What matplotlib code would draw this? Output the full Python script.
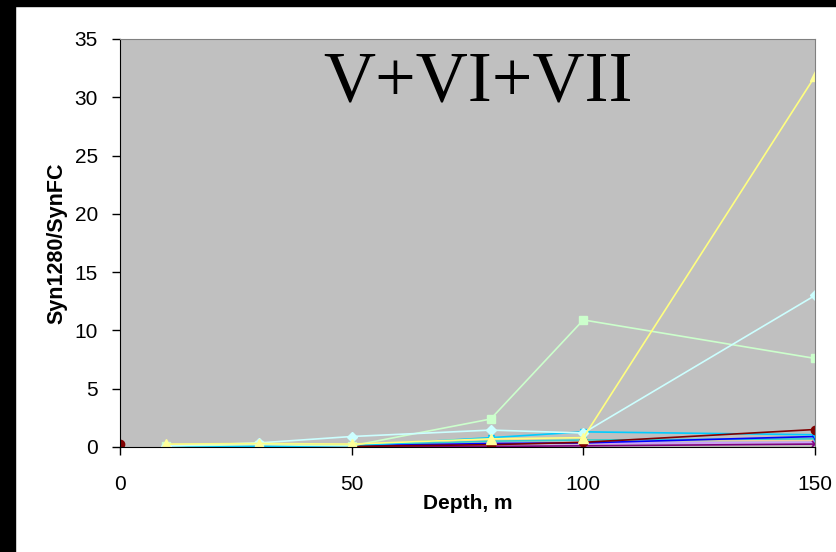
import numpy as np
import matplotlib
matplotlib.use("Agg")
import matplotlib.pyplot as plt
from matplotlib.patches import Rectangle

plt.rcParams['font.family'] = ['Liberation Sans', 'DejaVu Sans']

# depth levels, m
depth = [0, 10, 30, 50, 80, 100, 150]
nan = np.nan

# Syn1280/SynFC ratio per series
s_darkred = [0.3, nan, nan, 0.05, 0.2, 0.4, 1.5]
s_green = [nan, 0.1, 0.2, 0.1, 2.4, 10.9, 7.6]
s_lcyan = [nan, 0.1, 0.35, 0.9, 1.45, 1.2, 13.0]
s_yellow = [nan, 0.25, 0.3, 0.25, 0.7, 0.8, 31.8]
s_sky = [nan, 0.05, 0.05, 0.1, 0.8, 1.3, 1.05]
s_blue = [nan, 0.05, 0.05, 0.1, 0.3, 0.35, 0.9]
s_purple = [nan, 0.02, 0.02, 0.05, 0.05, 0.1, 0.25]
s_turq = [nan, 0.1, 0.1, 0.15, 0.5, 0.6, 0.7]
s_tan = [nan, 0.2, 0.2, 0.2, 0.6, 0.6, 0.6]
s_lav = [nan, 0.05, 0.05, 0.1, 0.3, 0.3, 0.4]

fig = plt.figure(figsize=(8.36, 5.52), dpi=100)
fig.patches.append(Rectangle((0, 0), 15/836, 1, transform=fig.transFigure, color='black', zorder=0))
fig.patches.append(Rectangle((0, 1-6/552), 1, 6/552, transform=fig.transFigure, color='black', zorder=0))

ax = fig.add_axes([120/836, 105/552, 695/836, 408/552])
ax.set_facecolor('#C0C0C0')

ax.plot(depth, s_tan, color='#FFCC99', lw=1.2, marker='o', ms=4)
ax.plot(depth, s_lav, color='#CC99FF', lw=1.2, marker='s', ms=3)
ax.plot(depth, s_purple, color='#800080', lw=1.2, marker='x', ms=5, mew=1.2)
ax.plot(depth, s_turq, color='#33CCCC', lw=1.2, marker='v', ms=4)
ax.plot(depth, s_blue, color='#0000FF', lw=1.2, marker='v', ms=4)
ax.plot(depth, s_sky, color='#00CCFF', lw=1.2, marker='v', ms=4)
ax.plot(depth, s_darkred, color='#800000', lw=1.2, marker='o', ms=6)
ax.plot(depth, s_green, color='#CCFFCC', lw=1.2, marker='s', ms=6)
ax.plot(depth, s_lcyan, color='#CCFFFF', lw=1.2, marker='D', ms=5)
ax.plot(depth, s_yellow, color='#FFFF80', lw=1.2, marker='^', ms=7, mfc='#FFFF99', mec='#FFFF99')

ax.set_xlim(0, 150)
ax.set_ylim(0, 35)
ax.set_xticks([0, 50, 100, 150])
ax.set_yticks(range(0, 36, 5))
ax.tick_params(labelsize=15, length=6, width=1, direction='out', pad=10)
ax.tick_params(axis='x', pad=14)
for s in ['top', 'right']:
    ax.spines[s].set_color('#808080')
for s in ['left', 'bottom']:
    ax.spines[s].set_color('black')

ax.set_xlabel('Depth, m', fontsize=15, fontweight='bold', labelpad=0)
ax.set_ylabel('Syn1280/SynFC', fontsize=15.5, fontweight='bold', labelpad=5)

ax.text(0.515, 0.85, 'V+VI+VII', transform=ax.transAxes, ha='center', va='baseline',
        fontsize=52, family='Liberation Serif')

fig.savefig('out.png', dpi=100)
